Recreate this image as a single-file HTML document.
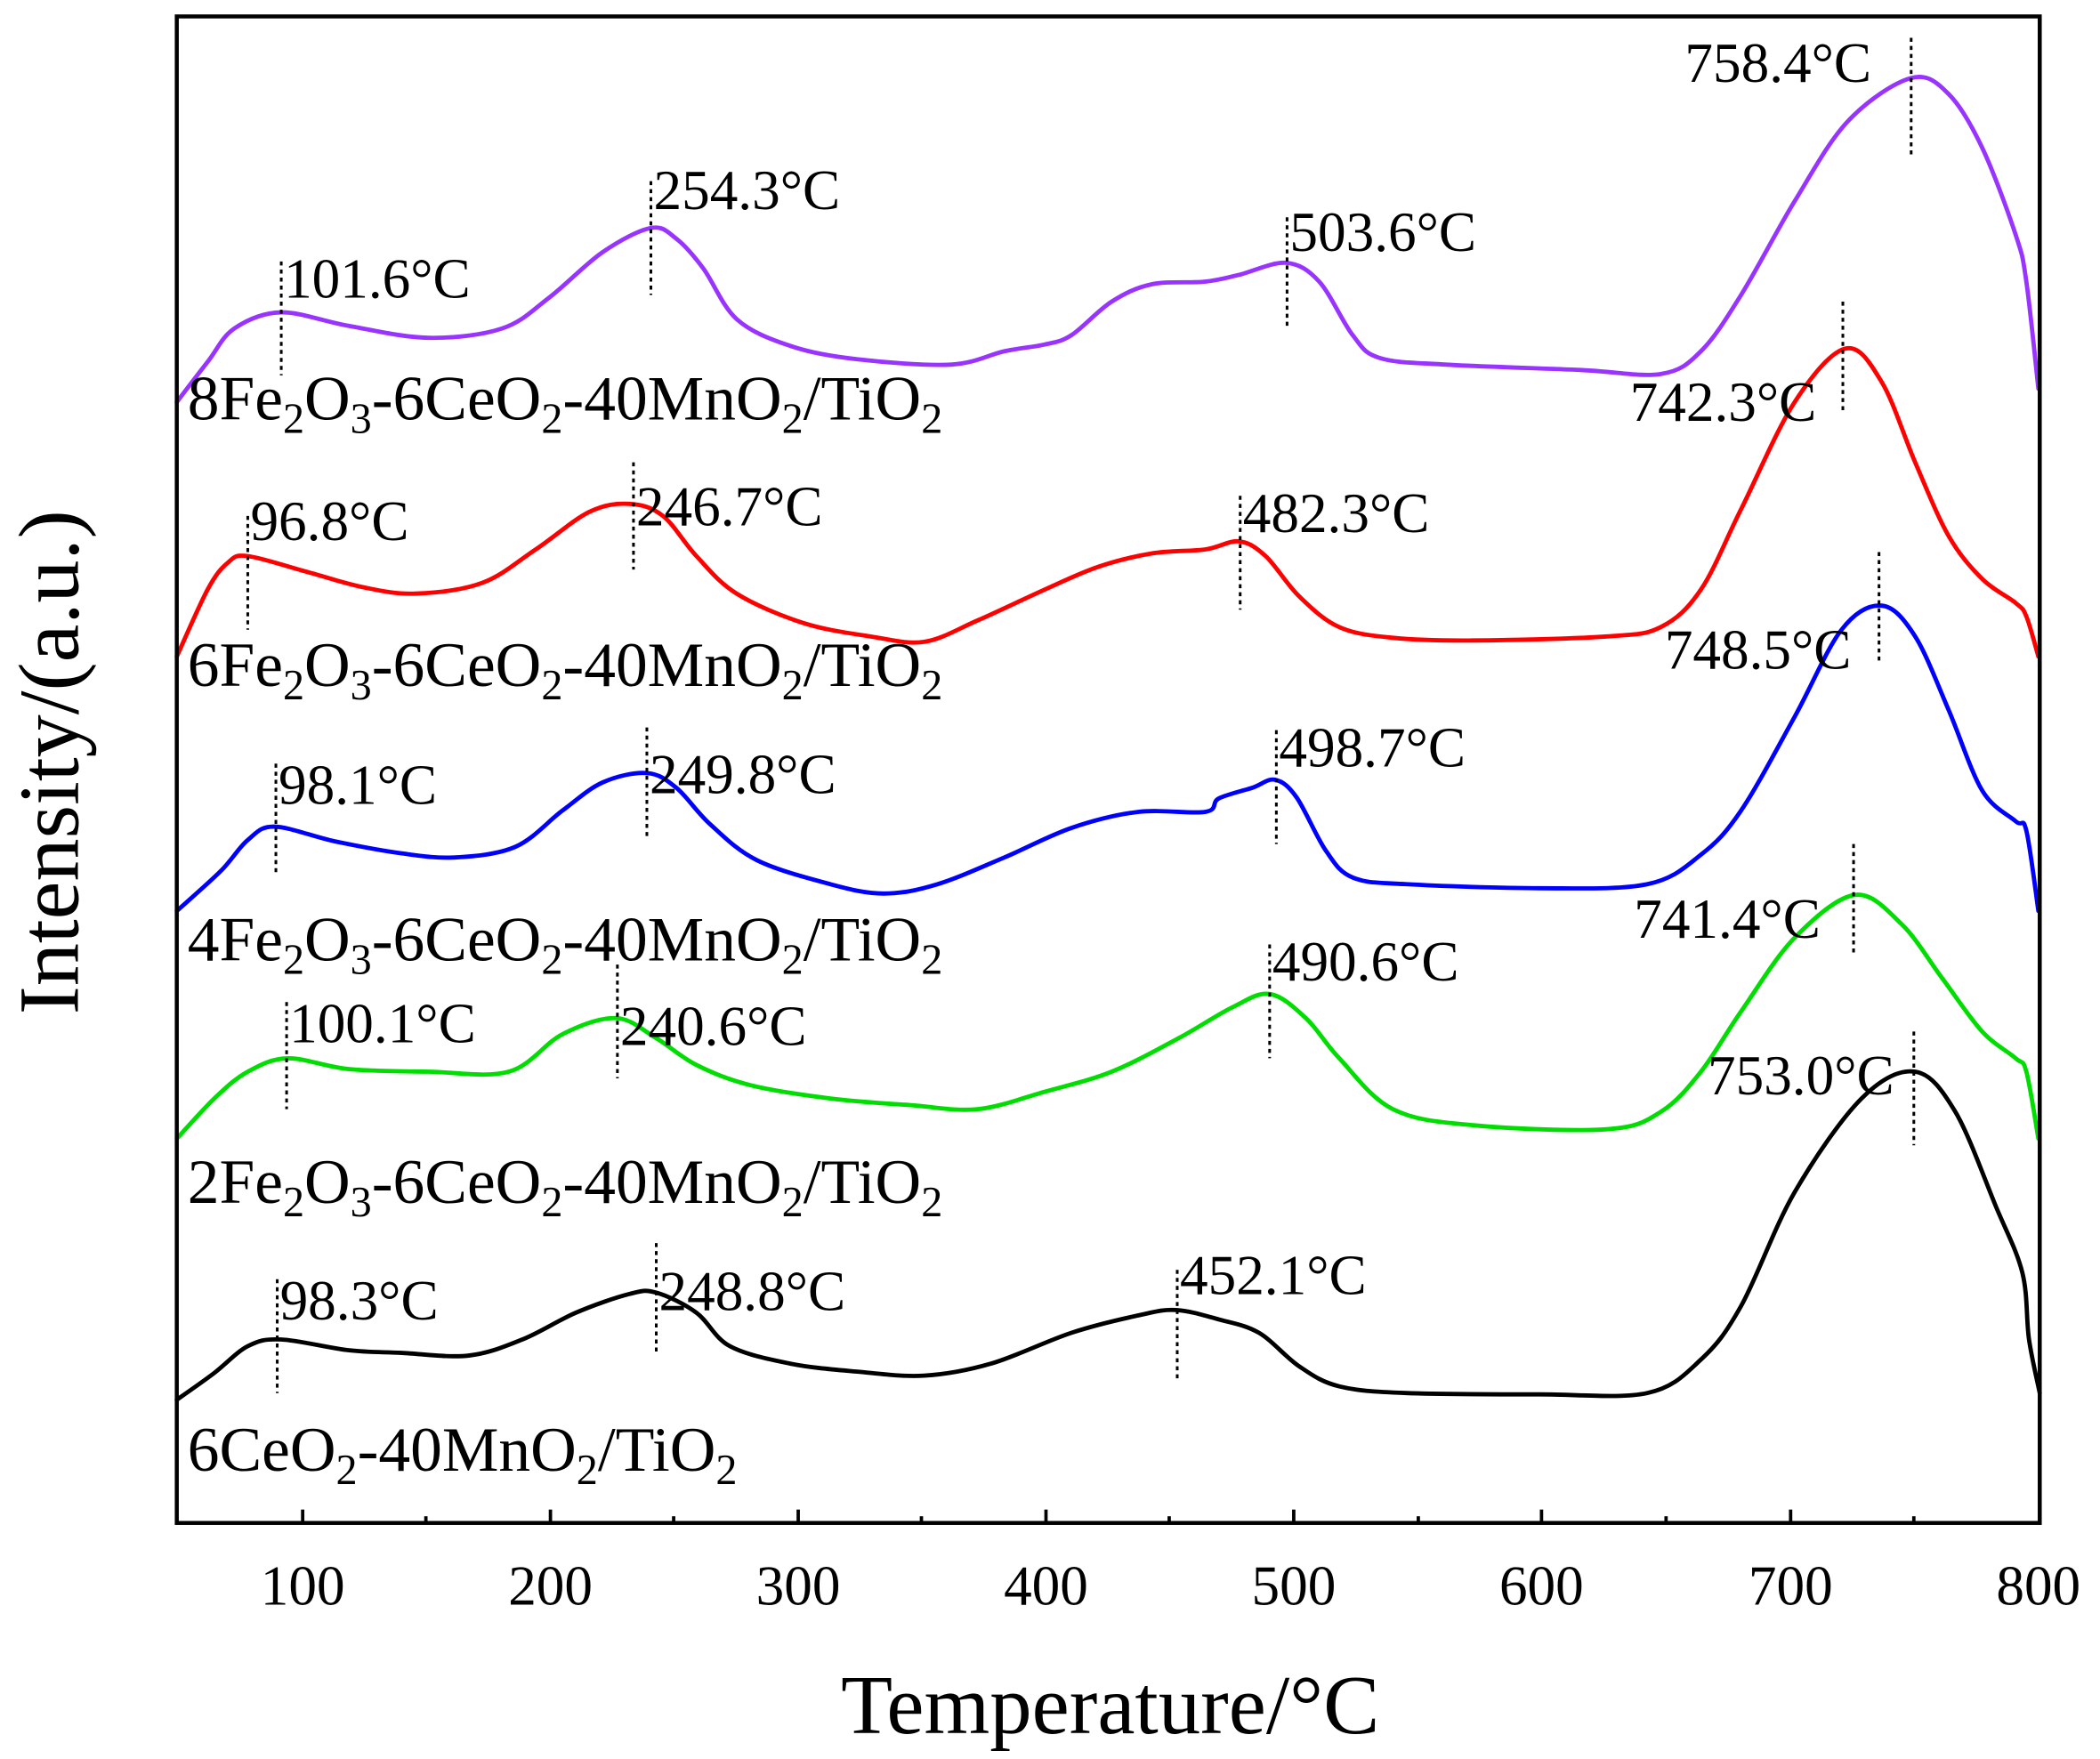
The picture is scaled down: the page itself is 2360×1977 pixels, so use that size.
<!DOCTYPE html>
<html><head><meta charset="utf-8"><style>
html,body{margin:0;padding:0;background:#fff}
svg{display:block}
text{font-family:"Liberation Serif",serif;fill:#000}
</style></head><body>
<svg id="s" width="2360" height="1977" viewBox="0 0 1568 1313" xmlns="http://www.w3.org/2000/svg">
<rect x="0" y="0" width="1568" height="1313" fill="#fff"/>
<g id="curves" fill="none" stroke-width="3.2" stroke-linejoin="round" stroke-linecap="round"></g>
<rect x="132" y="12" width="1391" height="1125" fill="none" stroke="#000" stroke-width="3"/>
<g stroke="#000" stroke-width="2.5">
<line x1="226" y1="1137" x2="226" y2="1127"/><line x1="411" y1="1137" x2="411" y2="1127"/><line x1="596" y1="1137" x2="596" y2="1127"/><line x1="781" y1="1137" x2="781" y2="1127"/><line x1="966" y1="1137" x2="966" y2="1127"/><line x1="1151" y1="1137" x2="1151" y2="1127"/><line x1="1337" y1="1137" x2="1337" y2="1127"/>
<line x1="318" y1="1137" x2="318" y2="1132"/><line x1="503" y1="1137" x2="503" y2="1132"/><line x1="688" y1="1137" x2="688" y2="1132"/><line x1="873" y1="1137" x2="873" y2="1132"/><line x1="1059" y1="1137" x2="1059" y2="1132"/><line x1="1244" y1="1137" x2="1244" y2="1132"/><line x1="1429" y1="1137" x2="1429" y2="1132"/>
</g>
<g font-size="42" text-anchor="middle">
<text x="226" y="1198">100</text><text x="411" y="1198">200</text><text x="596" y="1198">300</text><text x="781" y="1198">400</text><text x="966" y="1198">500</text><text x="1151" y="1198">600</text><text x="1337" y="1198">700</text><text x="1522" y="1198">800</text>
</g>
<text x="829" y="1294" font-size="63" text-anchor="middle">Temperature/°C</text>
<text transform="translate(58,569) rotate(-90)" font-size="64" text-anchor="middle">Intensity/(a.u.)</text>
<g stroke="#000" stroke-width="2" stroke-dasharray="3,3">
<line x1="207" y1="955" x2="207" y2="1040"/><line x1="490" y1="928" x2="490" y2="1012"/><line x1="879" y1="948" x2="879" y2="1032"/><line x1="1429" y1="770" x2="1429" y2="855"/>
<line x1="214" y1="748" x2="214" y2="828"/><line x1="461" y1="720" x2="461" y2="805"/><line x1="948" y1="705" x2="948" y2="790"/><line x1="1384" y1="630" x2="1384" y2="712"/>
<line x1="206" y1="570" x2="206" y2="652"/><line x1="483" y1="543" x2="483" y2="625"/><line x1="953" y1="545" x2="953" y2="630"/><line x1="1403" y1="412" x2="1403" y2="495"/>
<line x1="185" y1="385" x2="185" y2="470"/><line x1="473" y1="345" x2="473" y2="425"/><line x1="926" y1="370" x2="926" y2="455"/><line x1="1376" y1="225" x2="1376" y2="308"/>
<line x1="210" y1="195" x2="210" y2="280"/><line x1="486" y1="135" x2="486" y2="220"/><line x1="961" y1="162" x2="961" y2="245"/><line x1="1427" y1="28" x2="1427" y2="115"/>
</g>
<g font-size="42">
<text x="209" y="985">98.3°C</text><text x="492" y="978">248.8°C</text><text x="881" y="966">452.1°C</text><text x="1275" y="817">753.0°C</text>
<text x="216" y="778">100.1°C</text><text x="463" y="780">240.6°C</text><text x="950" y="732">490.6°C</text><text x="1220" y="700">741.4°C</text>
<text x="208" y="600">98.1°C</text><text x="485" y="592">249.8°C</text><text x="955" y="572">498.7°C</text><text x="1243" y="499">748.5°C</text>
<text x="187" y="403">96.8°C</text><text x="475" y="392">246.7°C</text><text x="928" y="397">482.3°C</text><text x="1217" y="314">742.3°C</text>
<text x="212" y="222">101.6°C</text><text x="488" y="156">254.3°C</text><text x="963" y="187">503.6°C</text><text x="1258" y="61">758.4°C</text>
</g>
<g font-size="47.5">
<text x="140" y="1098">6CeO<tspan font-size="32" dy="10">2</tspan><tspan dy="-10">-40MnO</tspan><tspan font-size="32" dy="10">2</tspan><tspan dy="-10">/TiO</tspan><tspan font-size="32" dy="10">2</tspan></text>
<text x="140" y="898">2Fe<tspan font-size="32" dy="10">2</tspan><tspan dy="-10">O</tspan><tspan font-size="32" dy="10">3</tspan><tspan dy="-10">-6CeO</tspan><tspan font-size="32" dy="10">2</tspan><tspan dy="-10">-40MnO</tspan><tspan font-size="32" dy="10">2</tspan><tspan dy="-10">/TiO</tspan><tspan font-size="32" dy="10">2</tspan></text>
<text x="140" y="717">4Fe<tspan font-size="32" dy="10">2</tspan><tspan dy="-10">O</tspan><tspan font-size="32" dy="10">3</tspan><tspan dy="-10">-6CeO</tspan><tspan font-size="32" dy="10">2</tspan><tspan dy="-10">-40MnO</tspan><tspan font-size="32" dy="10">2</tspan><tspan dy="-10">/TiO</tspan><tspan font-size="32" dy="10">2</tspan></text>
<text x="140" y="512">6Fe<tspan font-size="32" dy="10">2</tspan><tspan dy="-10">O</tspan><tspan font-size="32" dy="10">3</tspan><tspan dy="-10">-6CeO</tspan><tspan font-size="32" dy="10">2</tspan><tspan dy="-10">-40MnO</tspan><tspan font-size="32" dy="10">2</tspan><tspan dy="-10">/TiO</tspan><tspan font-size="32" dy="10">2</tspan></text>
<text x="140" y="313">8Fe<tspan font-size="32" dy="10">2</tspan><tspan dy="-10">O</tspan><tspan font-size="32" dy="10">3</tspan><tspan dy="-10">-6CeO</tspan><tspan font-size="32" dy="10">2</tspan><tspan dy="-10">-40MnO</tspan><tspan font-size="32" dy="10">2</tspan><tspan dy="-10">/TiO</tspan><tspan font-size="32" dy="10">2</tspan></text>
</g>
</svg>
<script>
var data=[
["#000",[[132,1045],[160,1025],[185,1005],[210,1000],[260,1008],[300,1010],[350,1012],[390,1000],[430,980],[470,966],[490,965],[520,980],[545,1005],[590,1018],[640,1024],[690,1027],[740,1018],[800,995],[850,982],[878,978],[910,985],[940,995],[970,1020],[1000,1035],[1050,1040],[1150,1041],[1230,1040],[1270,1015],[1300,975],[1340,890],[1390,820],[1430,800],[1460,830],[1490,900],[1510,950],[1515,1000],[1523,1040]]],
["#00dd00",[[132,850],[160,820],[185,800],[215,790],[260,798],[320,800],[380,800],[420,772],[460,760],[490,775],[520,795],[560,810],[620,820],[680,825],[730,828],[780,815],[830,800],[880,775],[920,752],[948,742],[975,760],[1000,790],[1040,828],[1100,840],[1200,843],[1240,830],[1270,800],[1300,755],[1340,700],[1385,668],[1420,690],[1450,730],[1480,770],[1505,790],[1513,800],[1522,850]]],
["#0000ff",[[132,680],[165,650],[185,627],[205,617],[250,628],[300,637],[340,640],[385,632],[420,605],[450,584],[483,577],[505,588],[530,615],[565,642],[620,660],[660,667],[700,660],[750,640],[800,618],[850,606],[900,606],[910,596],[935,588],[952,582],[968,595],[990,635],[1010,655],[1050,660],[1150,663],[1230,660],[1270,638],[1300,605],[1340,535],[1375,470],[1405,452],[1430,475],[1455,530],[1480,590],[1505,613],[1513,620],[1522,680]]],
["#ff0000",[[132,490],[155,440],[170,420],[185,415],[230,427],[270,438],[310,443],[360,435],[400,410],[440,382],[470,376],[495,385],[520,415],[550,443],[600,465],[650,475],[690,479],[730,463],[780,440],[820,423],[860,413],[900,410],[925,404],[945,415],[970,445],[1000,468],[1040,476],[1100,478],[1200,475],[1240,468],[1270,440],[1300,380],[1340,300],[1378,260],[1405,285],[1430,345],[1455,400],[1480,432],[1505,450],[1513,460],[1522,490]]],
["#9933ff",[[132,300],[155,270],[175,245],[210,233],[260,243],[320,252],[375,245],[410,222],[450,188],[486,170],[505,178],[525,200],[550,238],[590,258],[640,268],[710,272],[750,262],[780,257],[800,250],[830,225],[860,212],[900,210],[925,205],[960,196],[985,210],[1010,250],[1030,267],[1080,272],[1180,276],[1240,279],[1270,262],[1300,220],[1340,150],[1380,90],[1427,58],[1455,70],[1480,110],[1505,175],[1513,210],[1522,290]]]
];
var g=document.getElementById("curves"),NS="http://www.w3.org/2000/svg";
data.forEach(function(d){var p=d[1],s="M"+p[0][0]+","+p[0][1];
for(var i=0;i<p.length-1;i++){var p0=p[i>0?i-1:0],p1=p[i],p2=p[i+1],p3=p[i+2<p.length?i+2:i+1];
s+=" C"+(p1[0]+(p2[0]-p0[0])/6).toFixed(1)+","+(p1[1]+(p2[1]-p0[1])/6).toFixed(1)+" "+(p2[0]-(p3[0]-p1[0])/6).toFixed(1)+","+(p2[1]-(p3[1]-p1[1])/6).toFixed(1)+" "+p2[0]+","+p2[1];}
var e=document.createElementNS(NS,"path");e.setAttribute("d",s);e.setAttribute("stroke",d[0]);g.appendChild(e);});
</script>
</body></html>
